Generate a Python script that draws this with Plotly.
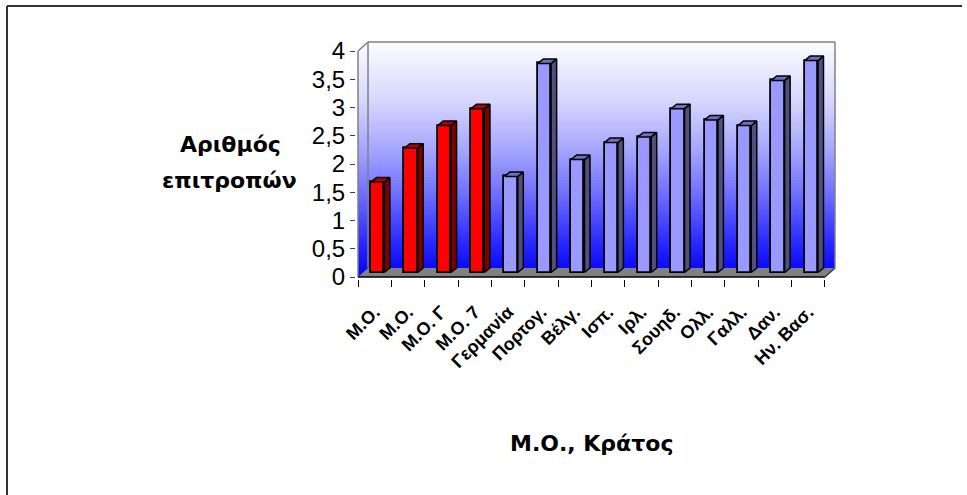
import plotly.graph_objects as go

# ---------------- data ----------------
labels = ["Μ.Ο.", "Μ.Ο.", "Μ.Ο. Γ", "Μ.Ο. 7", "Γερμανία", "Πορτογ.", "Βέλγ.",
          "Ισπ.", "Ιρλ.", "Σουηδ.", "Ολλ.", "Γαλλ.", "Δαν.", "Ην. Βασ."]
values = [1.6, 2.2, 2.6, 2.9, 1.7, 3.7, 2.0, 2.3, 2.4, 2.9, 2.7, 2.6, 3.4, 3.75]
groups = ["avg", "avg", "avg", "avg"] + ["state"] * 10
y_tickvals = [0, 0.5, 1, 1.5, 2, 2.5, 3, 3.5, 4]
y_ticktext = ["0", "0,5", "1", "1,5", "2", "2,5", "3", "3,5", "4"]
y_title_lines = ["Αριθμός", "επιτροπών"]
x_title = "Μ.Ο., Κράτος"

# ---------------- styling / geometry ----------------
W, H = 967, 495
n = len(values)
DX, DY = 0.30, 0.16          # depth of the 3D box (axis units)
EPS_X, EPS_Y = 0.06, 0.035
xr = [-0.5 - EPS_X, n - 0.5 + DX + EPS_X]
yr = [-EPS_Y, 4 + DY + EPS_Y]
L, R, T, B = 356, 837, 40, 279

BAR_W = 0.40
BAR_OFF = 0.09
SDX, SDY = 0.165, 0.08
BASE = DY / 2

front = {"avg": "#FF0000", "state": "#9999FF"}
side = {"avg": "#800000", "state": "#50507F"}
top = {"avg": "#B00000", "state": "#7070C0"}

FONT = "Arial, Liberation Sans, sans-serif"
TFONT = "DejaVu Sans, sans-serif"


def px2paper(px, py):
    return (px - L) / (R - L), (B - py) / (B - T)


fig = go.Figure()

xs = [i + BAR_OFF for i in range(n)]

# front faces
for g in ["avg", "state"]:
    idx = [i for i in range(n) if groups[i] == g]
    fig.add_trace(go.Bar(
        x=[xs[i] for i in idx], y=[values[i] for i in idx], base=BASE,
        width=BAR_W, marker=dict(color=front[g], line=dict(color="black", width=1.8)),
        showlegend=False, hoverinfo="skip"))

# side and top faces (derived from values)
for g in ["avg", "state"]:
    sx, sy, tx, ty = [], [], [], []
    for i in range(n):
        if groups[i] != g:
            continue
        xl = xs[i] - BAR_W / 2
        xrr = xs[i] + BAR_W / 2
        yt = BASE + values[i]
        sx += [xrr, xrr + SDX, xrr + SDX, xrr, xrr, None]
        sy += [BASE, BASE + SDY, yt + SDY, yt, BASE, None]
        tx += [xl, xl + SDX, xrr + SDX, xrr, xl, None]
        ty += [yt, yt + SDY, yt + SDY, yt, yt, None]
    fig.add_trace(go.Scatter(x=sx, y=sy, mode="lines", fill="toself", fillcolor=side[g],
                             line=dict(color="black", width=1.5), showlegend=False,
                             hoverinfo="skip"))
    fig.add_trace(go.Scatter(x=tx, y=ty, mode="lines", fill="toself", fillcolor=top[g],
                             line=dict(color="black", width=1.5), showlegend=False,
                             hoverinfo="skip"))

shapes = []
# gradient wall (stacked bands, each reaching to the top so no seams show)
stops = [(0.0, (0, 0, 255)), (0.15, (42, 42, 255)), (0.35, (110, 110, 255)),
         (0.55, (168, 168, 255)), (0.75, (214, 214, 255)), (1.0, (252, 252, 255))]


def col(f):
    for (a, ca), (b, cb) in zip(stops[:-1], stops[1:]):
        if a <= f <= b:
            t = (f - a) / (b - a)
            c = [round(ca[k] + (cb[k] - ca[k]) * t) for k in range(3)]
            return "rgb(%d,%d,%d)" % tuple(c)
    return "rgb(252,252,255)"


NB = 80
ytop = 4 + DY
for k in range(NB):
    y0 = ytop * k / NB
    shapes.append(dict(type="rect", xref="x", yref="y", x0=-0.5, x1=n - 0.5 + DX,
                       y0=y0, y1=ytop, fillcolor=col((k + 0.5) / NB), line=dict(width=0),
                       layer="below"))
# white areas outside the box
shapes.append(dict(type="path", xref="x", yref="y", layer="below",
                   path=f"M {-0.5 - EPS_X} {4} L {-0.5 - EPS_X} {4 + DY + EPS_Y} L {-0.5 + DX} {4 + DY + EPS_Y} L {-0.5 + DX} {4 + DY} L {-0.5} {4} Z",
                   fillcolor="white", line=dict(width=0)))
shapes.append(dict(type="path", xref="x", yref="y", layer="below",
                   path=f"M {n - 0.5} {0} L {n - 0.5 + DX} {0} L {n - 0.5 + DX} {DY} Z",
                   fillcolor="white", line=dict(width=0)))
# floor
shapes.append(dict(type="path", xref="x", yref="y", layer="below",
                   path=f"M {-0.5} 0 L {n - 0.5} 0 L {n - 0.5 + DX} {DY} L {-0.5 + DX} {DY} Z",
                   fillcolor="#808080", line=dict(width=0)))
# edges
gray = "#808080"
edges = [
    ((-0.5 + DX, DY), (-0.5 + DX, 4 + DY), gray),
    ((-0.5 + DX, 4 + DY), (n - 0.5 + DX, 4 + DY), gray),
    ((n - 0.5 + DX, 4 + DY), (n - 0.5 + DX, DY), gray),
    ((-0.5, 0), (-0.5, 4), gray),
    ((-0.5, 4), (-0.5 + DX, 4 + DY), gray),
    ((-0.5, 0), (n - 0.5, 0), "black"),
    ((n - 0.5, 0), (n - 0.5 + DX, DY), "#404040"),
]
for (a, b, c) in edges:
    shapes.append(dict(type="line", xref="x", yref="y", layer="below",
                       x0=a[0], y0=a[1], x1=b[0], y1=b[1], line=dict(color=c, width=1.5)))

# outer frame (top and left)
p0 = px2paper(7, 6)
p1 = px2paper(962, 6)
p2 = px2paper(7, 495)
shapes.append(dict(type="line", xref="paper", yref="paper", x0=p0[0], y0=p0[1],
                   x1=p1[0], y1=p1[1], line=dict(color="#333333", width=2)))
shapes.append(dict(type="line", xref="paper", yref="paper", x0=p0[0], y0=p0[1],
                   x1=p2[0], y1=p2[1], line=dict(color="#333333", width=2)))

ya1 = px2paper(230, 144)
ya2 = px2paper(229, 180)
xa = px2paper(591, 443)
annotations = [
    dict(text="<b>" + y_title_lines[0] + "</b>", xref="paper", yref="paper",
         x=ya1[0], y=ya1[1], xanchor="center", yanchor="middle", showarrow=False,
         font=dict(family=TFONT, size=22, color="black")),
    dict(text="<b>" + y_title_lines[1] + "</b>", xref="paper", yref="paper",
         x=ya2[0], y=ya2[1], xanchor="center", yanchor="middle", showarrow=False,
         font=dict(family=TFONT, size=22, color="black")),
    dict(text="<b>" + x_title + "</b>", xref="paper", yref="paper",
         x=xa[0], y=xa[1], xanchor="center", yanchor="middle", showarrow=False,
         font=dict(family=TFONT, size=22, color="black")),
]

fig.update_layout(
    width=W, height=H,
    margin=dict(l=L, r=W - R, t=T, b=H - B, pad=0),
    paper_bgcolor="white", plot_bgcolor="white",
    shapes=shapes, annotations=annotations, bargap=0,
    xaxis=dict(range=xr, showgrid=False, zeroline=False, showline=False,
               tickvals=list(range(n)), ticktext=labels, ticks="", tickangle=-45,
               ticklabelstandoff=18,
               tickfont=dict(family=FONT, size=18, color="black", weight="bold"),
               minor=dict(tickvals=[i - 0.5 for i in range(n + 1)], ticks="outside",
                          ticklen=7, tickcolor="black", tickwidth=1, showgrid=False)),
    yaxis=dict(range=yr, showgrid=False, zeroline=False, showline=False,
               tickvals=y_tickvals, ticktext=y_ticktext, ticks="outside", ticklen=5,
               tickcolor="#404040", tickfont=dict(family=FONT, size=24, color="black")),
)

fig.write_html("out.html")
